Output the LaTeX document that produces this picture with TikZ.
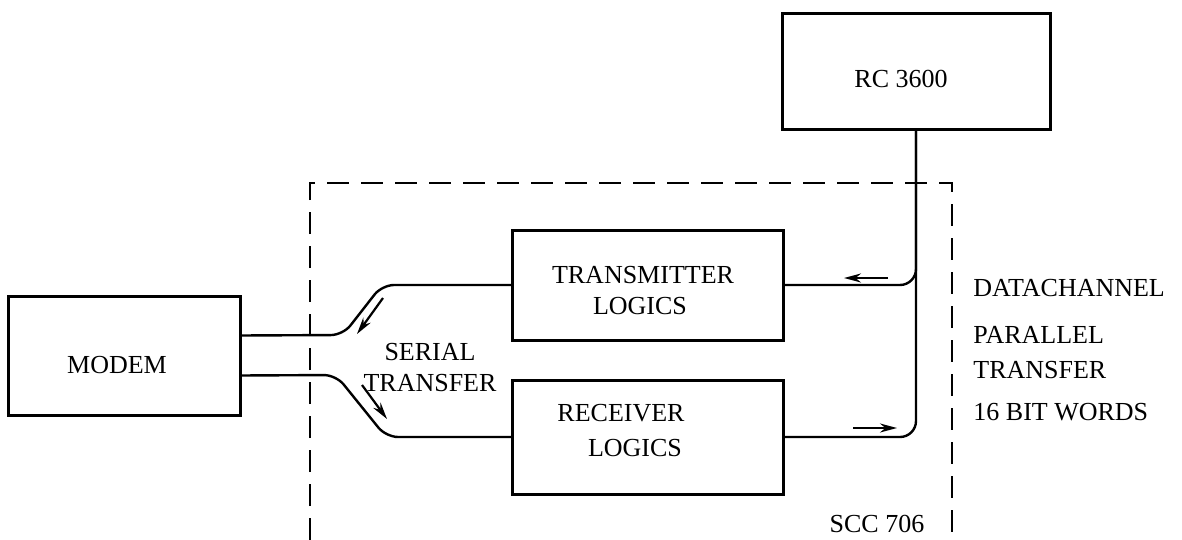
\documentclass[tikz,border=0pt]{standalone}
\usepackage{fontspec}
\setmainfont{Liberation Serif}
\usetikzlibrary{arrows.meta}

\tikzset{
  unit/.style={draw, line width=1.5pt, inner sep=0pt, outer sep=0pt},
  link/.style={line width=1.2pt},
  frame/.style={line width=1.2pt, dash pattern=on 11pt off 6pt},
  flow/.style={line width=1.1pt, -{Stealth[length=8.5pt,width=4.5pt]}},
  txt/.style={font=\fontsize{13}{15}\selectfont, inner sep=0pt}
}

\begin{document}
\begin{tikzpicture}[x=0.5pt, y=-0.5pt]
    \useasboundingbox (0,0) rectangle (1182,540);

    % Blocks
    \node[unit, minimum width=134pt, minimum height=57.5pt] (rc) at (916,71.5) {};
    \node[txt] (rctext) at (901,79) {RC 3600};

    \node[unit, minimum width=116pt, minimum height=59.5pt] (modem) at (124,355.5) {};
    \node[txt] (modemtext) at (117,365) {MODEM};

    \node[unit, minimum width=135.5pt, minimum height=55pt] (tx) at (647.5,285) {};
    \node[txt] (txtext1) at (643,275) {TRANSMITTER};
    \node[txt] (txtext2) at (640,306) {LOGICS};

    \node[unit, minimum width=135.5pt, minimum height=57pt] (rx) at (647.5,437) {};
    \node[txt] (rxtext1) at (621,413) {RECEIVER};
    \node[txt] (rxtext2) at (635,448) {LOGICS};

    % SCC 706 frame
    \draw[frame] (310,540) -- (310,183) -- (952,183) -- (952,540);
    \node[txt] (scc) at (877,524) {SCC 706};

    % Serial side
    \draw[link, rounded corners=6pt] ([yshift=10pt]modem.east) -- (343,335) -- (382,285) -- (tx.west);
    \draw[link, rounded corners=6pt] ([yshift=-10pt]modem.east) -- (336,375) -- (386,437) -- (rx.west);
    \node[txt] (serial1) at (430,352) {SERIAL};
    \node[txt] (serial2) at (430,383) {TRANSFER};

    % Parallel side
    \draw[link, rounded corners=8pt] (tx.east) -| (rc.south);
    \draw[link, rounded corners=8pt] (rx.east) -| (rc.south);
    \node[txt, anchor=west] (par1) at (973,288) {DATACHANNEL};
    \node[txt, anchor=west] (par2) at (973,335) {PARALLEL};
    \node[txt, anchor=west] (par3) at (973,370) {TRANSFER};
    \node[txt, anchor=west] (par4) at (973,412) {16 BIT WORDS};

    % Arrows
    \coordinate (s1a) at (383,298);
    \coordinate (s1b) at (357,334);
    \coordinate (s2a) at (362,385);
    \coordinate (s2b) at (387,419);
    \coordinate (p1a) at (888,278);
    \coordinate (p1b) at (844,278);
    \coordinate (p2a) at (853,428);
    \coordinate (p2b) at (897,428);
    \draw[flow] (s1a) -- (s1b);
    \draw[flow] (s2a) -- (s2b);
    \draw[flow] (p1a) -- (p1b);
    \draw[flow] (p2a) -- (p2b);
\end{tikzpicture}
\end{document}
